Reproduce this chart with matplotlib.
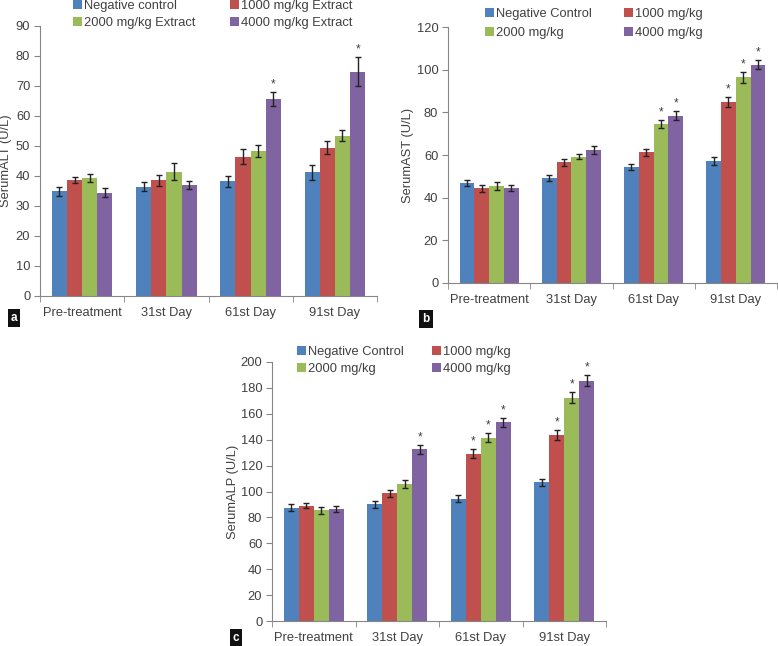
import numpy as np
import matplotlib
matplotlib.use("Agg")
import matplotlib.pyplot as plt

plt.rcParams['font.family'] = ['Liberation Sans', 'DejaVu Sans']

days = ["Pre-treatment", "31st Day", "61st Day", "91st Day"]
colors = ["#4F81BD", "#C0504D", "#9BBB59", "#8064A2"]

# panel a - ALT
alt_labels = ["Negative control", "1000 mg/kg Extract", "2000 mg/kg Extract", "4000 mg/kg Extract"]
alt_mean = [[35.0, 36.5, 38.2, 41.3],
            [38.6, 38.6, 46.5, 49.5],
            [39.4, 41.4, 48.4, 53.5],
            [34.5, 37.0, 65.7, 74.8]]
alt_err = [[1.5, 1.5, 1.7, 2.5],
           [1.0, 1.8, 2.5, 2.3],
           [1.3, 2.8, 2.0, 1.7],
           [1.5, 1.3, 2.3, 4.8]]
alt_star = [[0, 0, 0, 0], [0, 0, 0, 0], [0, 0, 0, 0], [0, 0, 1, 1]]

# panel b - AST
ast_labels = ["Negative Control", "1000 mg/kg", "2000 mg/kg", "4000 mg/kg"]
ast_mean = [[47.0, 49.3, 54.3, 57.2],
            [44.3, 56.5, 61.2, 84.7],
            [45.5, 59.2, 74.5, 96.4],
            [44.5, 62.3, 78.5, 102.4]]
ast_err = [[1.5, 1.5, 1.5, 2.0],
           [1.5, 1.7, 1.8, 2.3],
           [1.7, 1.3, 2.0, 2.7],
           [1.5, 1.8, 2.3, 2.3]]
ast_star = [[0, 0, 0, 0], [0, 0, 0, 1], [0, 0, 1, 1], [0, 0, 1, 1]]

# panel c - ALP
alp_labels = ["Negative Control", "1000 mg/kg", "2000 mg/kg", "4000 mg/kg"]
alp_mean = [[87.5, 90.0, 94.5, 107.0],
            [89.0, 98.5, 129.0, 143.5],
            [85.5, 106.0, 141.5, 172.5],
            [86.5, 132.5, 153.5, 185.7]]
alp_err = [[2.5, 3.0, 2.5, 2.5],
           [2.0, 2.5, 3.5, 4.0],
           [2.5, 3.0, 3.5, 4.5],
           [2.0, 3.5, 3.5, 4.5]]
alp_star = [[0, 0, 0, 0], [0, 0, 1, 1], [0, 0, 1, 1], [0, 1, 1, 1]]

txt = "#404040"
axc = "#868686"
W, H = 778, 646
fs = 9.3


def panel(ax, means, errs, stars, labels, ylabel, ymax, step, letter, lx, ly,
          ylab_x, leg_x, leg_top, leg_sp, col_sp):
    x = np.arange(len(days))
    w = 0.18
    for i in range(4):
        pos = x + (i - 1.5) * w
        ax.bar(pos, means[i], w, color=colors[i], label=labels[i])
        ax.errorbar(pos, means[i], yerr=errs[i], fmt='none', ecolor='#222222',
                    elinewidth=1.0, capsize=2.5, capthick=1.0)
        for j in range(len(days)):
            if stars[i][j]:
                ax.text(pos[j], means[i][j] + errs[i][j] + ymax * 0.006, "*",
                        ha='center', va='bottom', fontsize=8.5, color=txt)
    ax.set_xlim(-0.5, 3.5)
    ax.set_ylim(0, ymax)
    ax.set_yticks(np.arange(0, ymax + 1, step))
    ax.set_xticks(x)
    ax.set_xticklabels(days)
    ax.set_xticks(np.arange(-0.5, 4, 1), minor=True)
    ax.tick_params(axis='x', which='major', length=0, pad=8)
    ax.tick_params(axis='x', which='minor', length=4, color=axc)
    ax.tick_params(axis='y', length=4, color=axc, direction='out', pad=3)
    ax.tick_params(labelsize=fs, labelcolor=txt)
    ax.set_ylabel(ylabel, fontsize=fs, color=txt)
    bb = ax.get_position()
    ax.yaxis.set_label_coords((ylab_x / W - bb.x0) / bb.width, 0.5)
    for s in ['top', 'right']:
        ax.spines[s].set_visible(False)
    for s in ['left', 'bottom']:
        ax.spines[s].set_color(axc)
    h, l = ax.get_legend_handles_labels()
    order = [0, 2, 1, 3]
    ax.legend([h[k] for k in order], [l[k] for k in order], ncol=2,
              loc='upper left', bbox_to_anchor=(leg_x / W, 1 - leg_top / H),
              bbox_transform=fig.transFigure, frameon=False,
              fontsize=fs, handlelength=0.7, handleheight=0.7, handletextpad=0.15,
              columnspacing=col_sp, labelspacing=leg_sp, borderaxespad=0,
              borderpad=0, labelcolor=txt)
    fig.text(lx / W, 1 - ly / H, letter, color='white', fontsize=8.5, fontweight='bold',
             ha='center', va='center',
             bbox=dict(boxstyle='square,pad=0.25', fc='#111111', ec='none'))


fig = plt.figure(figsize=(7.78, 6.46), dpi=100)
ax_a = fig.add_axes([40 / W, 1 - 296 / H, 337 / W, 270 / H])
ax_b = fig.add_axes([448 / W, 1 - 283 / H, 329 / W, 256 / H])
ax_c = fig.add_axes([272 / W, 1 - 621 / H, 334 / W, 259 / H])

panel(ax_a, alt_mean, alt_err, alt_star, alt_labels, "SerumALT (U/L)", 90, 10,
      "a", 14, 318, 12, 73, 0, 0.4, 2.7)
panel(ax_b, ast_mean, ast_err, ast_star, ast_labels, "SerumAST (U/L)", 120, 20,
      "b", 426, 319, 414, 485, 8, 0.55, 2.5)
panel(ax_c, alp_mean, alp_err, alp_star, alp_labels, "SerumALP (U/L)", 200, 20,
      "c", 236, 638, 239, 297, 346, 0.4, 2.2)

fig.savefig("out.png", dpi=100)
